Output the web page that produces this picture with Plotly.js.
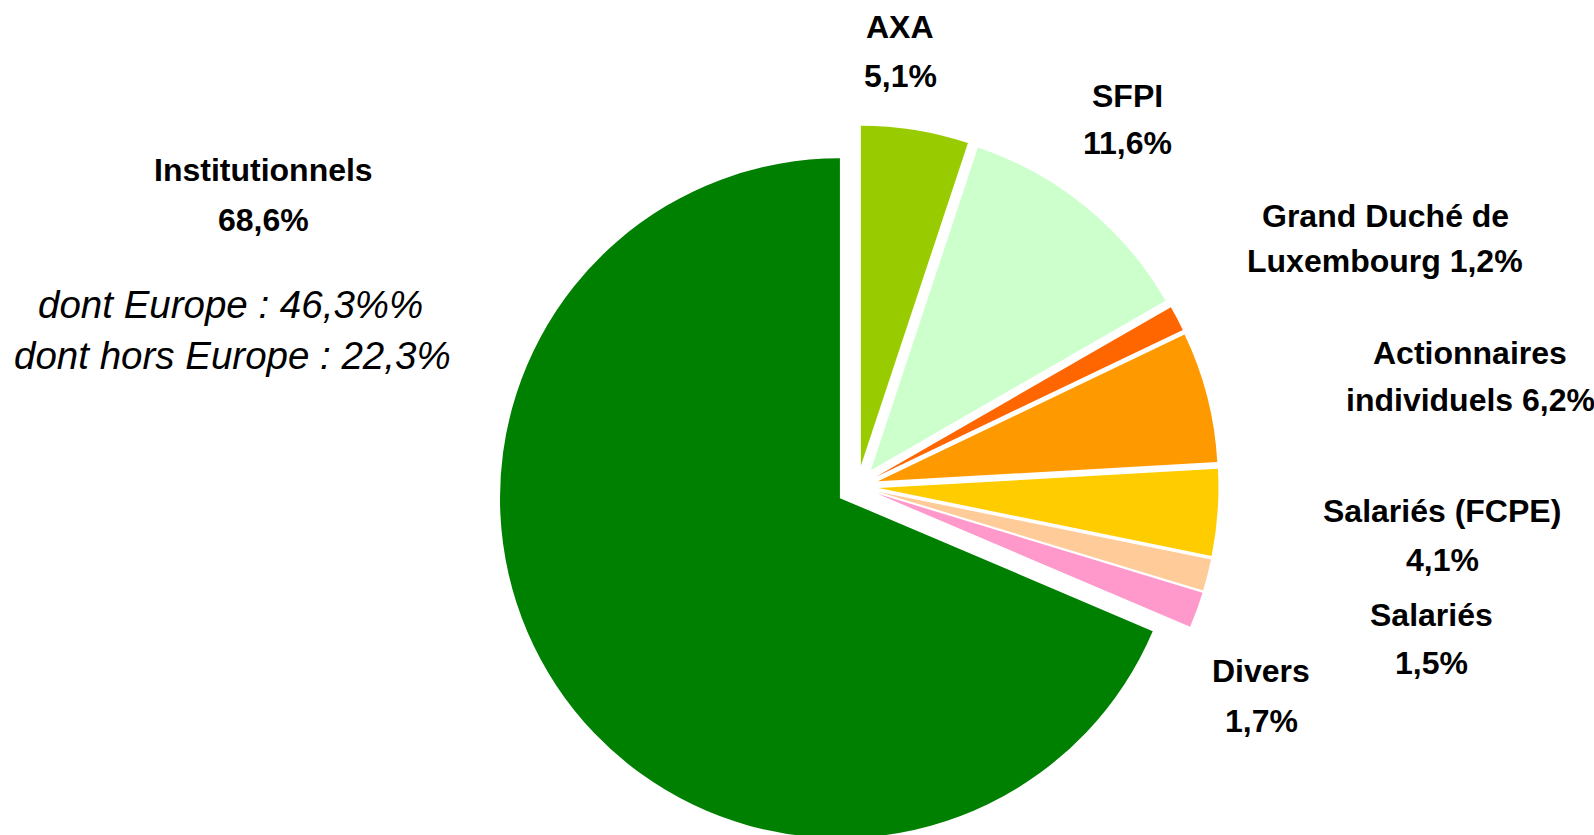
<!DOCTYPE html>
<html>
<head>
<meta charset="utf-8">
<script src="https://cdn.plot.ly/plotly-3.0.1.min.js"></script>
<style>
  html, body { margin: 0; padding: 0; overflow: hidden; background: #fff; }
</style>
</head>
<body>
<div id="pieCapital"></div>
<script>
// shareholding, clockwise from 12 o'clock
var holders = ['AXA', 'SFPI', 'Grand Duché de Luxembourg', 'Actionnaires individuels', 'Salariés (FCPE)', 'Salariés', 'Divers', 'Institutionnels'];
var shares = [5.1, 11.6, 1.2, 6.2, 4.1, 1.5, 1.7, 68.6];
var colours = ['#99cc00', '#ccffcc', '#ff6600', '#ff9900', '#ffcc00', '#ffcc99', '#ff99cc', '#008000'];

// breakdown of the institutionnels slice
var instRegions = ['Europe', 'hors Europe'];
var instShares = [46.3, 22.3];

var W = 1594, H = 860;

function pct(v) { return v.toFixed(1).replace('.', ',') + '%'; }
function px(x, y) { return {x: x / W, y: 1 - y / H}; }

// label spots (px): centre x, centre of first line, line gap, words kept on line 1
var labelSpots = [
  {x: 900, y: 26.5, gap: 49, wrap: 0},
  {x: 1127, y: 96, gap: 47, wrap: 0},
  {x: 1385, y: 216.5, gap: 44.5, wrap: 3},
  {x: 1470, y: 352.5, gap: 47.5, wrap: 1},
  {x: 1442, y: 511, gap: 48.5, wrap: 0},
  {x: 1431, y: 614.5, gap: 48, wrap: 0},
  {x: 1261, y: 670.5, gap: 50, wrap: 0},
  {x: 263, y: 170, gap: 50, wrap: 0}
];

var annots = [];
holders.forEach(function (name, i) {
  var s = labelSpots[i], lines;
  if (s.wrap) {
    var w = name.split(' ');
    lines = [w.slice(0, s.wrap).join(' '), w.slice(s.wrap).join(' ') + ' ' + pct(shares[i])];
  } else {
    lines = [name, pct(shares[i])];
  }
  lines.forEach(function (t, k) {
    var p = px(s.x, s.y + k * s.gap);
    annots.push({
      xref: 'paper', yref: 'paper', x: p.x, y: p.y,
      xanchor: 'center', yanchor: 'middle', showarrow: false,
      text: t,
      font: {family: 'Liberation Sans, Arial, sans-serif', size: 32, color: '#000', weight: 'bold'}
    });
  });
});

// italic notes under Institutionnels (double % kept as on the slide)
var noteSpots = [{x: 230, y: 305}, {x: 232, y: 355}];
instRegions.forEach(function (r, k) {
  var p = px(noteSpots[k].x, noteSpots[k].y);
  annots.push({
    xref: 'paper', yref: 'paper', x: p.x, y: p.y,
    xanchor: 'center', yanchor: 'middle', showarrow: false,
    text: 'dont ' + r + ' : ' + pct(instShares[k]) + (k === 0 ? '%' : ''),
    font: {family: 'Liberation Sans, Arial, sans-serif', size: 38.5, color: '#000', style: 'italic'}
  });
});

var dataPie = [{
  type: 'pie',
  labels: holders,
  values: shares,
  sort: false,
  direction: 'clockwise',
  rotation: 0,
  pull: 0.062,
  textinfo: 'none',
  hoverinfo: 'label+percent',
  marker: {colors: colours, line: {width: 0}},
  domain: {x: [496 / W, 1219 / W], y: [1 - 847.5 / H, 1 - 125.5 / H]}
}];

var layoutPie = {
  width: W,
  height: H,
  margin: {l: 0, r: 0, t: 0, b: 0},
  showlegend: false,
  paper_bgcolor: '#fff',
  annotations: annots
};

Plotly.newPlot('pieCapital', dataPie, layoutPie, {displayModeBar: false, staticPlot: true});
</script>
</body>
</html>
